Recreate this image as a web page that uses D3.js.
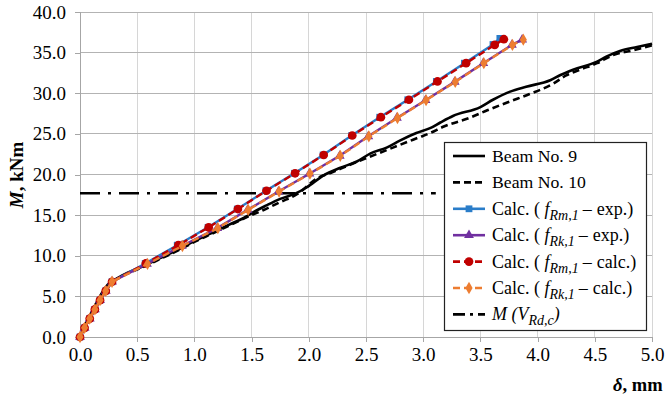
<!DOCTYPE html>
<html>
<head>
<meta charset="utf-8">
<script src="https://cdn.jsdelivr.net/npm/d3@7"></script>
<style>
  html, body { margin: 0; padding: 0; background: #fff; }
  svg { display: block; }
  text { font-family: "Liberation Serif", "Tinos", "Times New Roman", "DejaVu Serif", serif; fill: #000; }
</style>
</head>
<body>
<svg id="chart" width="665" height="398"></svg>
<script>
// Moment M [kNm] versus deflection δ [mm]
const xTicks = [0, 0.5, 1, 1.5, 2, 2.5, 3, 3.5, 4, 4.5, 5];
const yTicks = [0, 5, 10, 15, 20, 25, 30, 35, 40];

// Test results
const beam9Delta = [0, 0.05, 0.1, 0.15, 0.2, 0.26, 0.3, 0.4, 0.55, 0.7, 0.85, 1.0, 1.15, 1.3, 1.45, 1.52, 1.63, 1.75, 1.89, 1.98, 2.13, 2.27, 2.42, 2.54, 2.68, 2.8, 2.94, 3.06, 3.15, 3.26, 3.5, 3.61, 3.76, 3.9, 4.11, 4.2, 4.31, 4.52, 4.6, 4.72, 4.87, 5.0];
const beam9M     = [0, 1.5, 2.9, 4.3, 5.5, 6.6, 7.0, 7.8, 8.7, 9.7, 10.7, 11.8, 12.8, 13.8, 14.8, 15.4, 16.2, 17.0, 17.7, 18.4, 19.9, 20.8, 21.6, 22.6, 23.3, 24.2, 25.1, 25.7, 26.4, 27.2, 28.3, 29.2, 30.2, 30.8, 31.6, 32.25, 32.9, 33.9, 34.5, 35.2, 35.7, 36.1];
const beam10Delta = [0, 0.05, 0.1, 0.15, 0.2, 0.26, 0.3, 0.4, 0.55, 0.7, 0.85, 1.0, 1.15, 1.3, 1.45, 1.6, 1.75, 1.9, 2.07, 2.21, 2.36, 2.5, 2.68, 2.86, 2.97, 3.06, 3.18, 3.41, 3.56, 3.76, 3.93, 4.14, 4.25, 4.37, 4.52, 4.66, 4.84, 5.0];
const beam10M     = [0, 1.6, 3.0, 4.4, 5.6, 6.7, 7.0, 7.7, 8.6, 9.6, 10.6, 11.7, 12.7, 13.7, 14.7, 15.6, 16.6, 17.6, 19.5, 20.3, 21.2, 22.0, 23.0, 24.0, 24.6, 25.1, 25.9, 27.0, 27.9, 29.0, 29.9, 31.2, 32.2, 32.9, 33.7, 34.7, 35.3, 35.9];

// Calculated curves
const rmExpDelta  = [0, 0.04, 0.085, 0.13, 0.175, 0.225, 0.28, 0.57, 0.85, 1.12, 1.375, 1.625, 1.875, 2.125, 2.375, 2.62, 2.865, 3.115, 3.36, 3.61, 3.67];
const rmExpM      = [0, 1.13, 2.27, 3.4, 4.53, 5.67, 6.8, 9.05, 11.3, 13.5, 15.75, 18.0, 20.15, 22.4, 24.8, 27.05, 29.2, 31.45, 33.7, 36.0, 36.75];
const rkExpDelta  = [0, 0.04, 0.085, 0.13, 0.175, 0.225, 0.28, 0.585, 0.89, 1.2, 1.465, 1.735, 2.005, 2.27, 2.52, 2.77, 3.02, 3.275, 3.525, 3.775, 3.865];
const rkExpM      = [0, 1.13, 2.27, 3.4, 4.53, 5.67, 6.8, 9.0, 11.2, 13.4, 15.65, 17.9, 20.1, 22.3, 24.7, 26.95, 29.15, 31.4, 33.7, 35.95, 36.6];
const rmCalcDelta = [0, 0.04, 0.085, 0.13, 0.175, 0.225, 0.28, 0.575, 0.86, 1.125, 1.38, 1.63, 1.88, 2.13, 2.38, 2.63, 2.875, 3.125, 3.375, 3.625, 3.705];
const rmCalcM     = [0, 1.13, 2.27, 3.4, 4.53, 5.67, 6.8, 9.05, 11.3, 13.5, 15.75, 18.0, 20.15, 22.4, 24.8, 27.05, 29.2, 31.45, 33.7, 35.95, 36.65];
const rkCalcDelta = [0, 0.04, 0.085, 0.13, 0.175, 0.225, 0.28, 0.59, 0.895, 1.205, 1.47, 1.74, 2.01, 2.275, 2.525, 2.775, 3.025, 3.28, 3.53, 3.78, 3.875];
const rkCalcM     = [0, 1.13, 2.27, 3.4, 4.53, 5.67, 6.8, 9.0, 11.2, 13.4, 15.65, 17.9, 20.1, 22.3, 24.7, 26.95, 29.15, 31.4, 33.7, 35.95, 36.6];

// Shear resistance level M(V_Rd,c)
const vrdDelta = [0, 3.11];
const vrdM     = [17.7, 17.7];

const svg = d3.select("#chart");
const x = d3.scaleLinear().domain([0, 5]).range([80, 652]);
const y = d3.scaleLinear().domain([0, 40]).range([337, 12]);

// Grid
svg.append("g").selectAll("line").data(xTicks.slice(1)).join("line")
  .attr("x1", d => x(d)).attr("x2", d => x(d)).attr("y1", y(0)).attr("y2", y(40))
  .attr("stroke", "#d6d6d6").attr("stroke-width", 1).attr("shape-rendering", "crispEdges");
svg.append("g").selectAll("line").data(yTicks.slice(1)).join("line")
  .attr("x1", x(0)).attr("x2", x(5)).attr("y1", d => y(d)).attr("y2", d => y(d))
  .attr("stroke", "#b3b3b3").attr("stroke-width", 1).attr("shape-rendering", "crispEdges");

// Axes
const xAxis = d3.axisBottom(x).tickValues(xTicks).tickFormat(d3.format(".1f")).tickSize(5).tickPadding(6);
const yAxis = d3.axisLeft(y).tickValues(yTicks).tickFormat(d3.format(".1f")).tickSize(5).tickPadding(9);
const gx = svg.append("g").attr("transform", `translate(0,${y(0)})`).call(xAxis);
const gy = svg.append("g").attr("transform", `translate(${x(0)},0)`).call(yAxis);
[gx, gy].forEach(g => {
  g.attr("font-family", null);
  g.select(".domain").attr("stroke", "#a6a6a6").attr("shape-rendering", "crispEdges");
  g.selectAll(".tick line").attr("stroke", "#a6a6a6").attr("shape-rendering", "crispEdges");
  g.selectAll(".tick text").attr("font-size", 19).attr("fill", "#000");
});

// Axis titles
svg.append("text").attr("transform", "translate(23,175) rotate(-90)")
  .attr("text-anchor", "middle").attr("font-size", 19).attr("font-weight", "bold")
  .call(t => {
    t.append("tspan").attr("font-style", "italic").text("M");
    t.append("tspan").text(", kNm");
  });
svg.append("text").attr("x", 613).attr("y", 391)
  .attr("font-size", 18.5).attr("font-weight", "bold")
  .call(t => {
    t.append("tspan").attr("font-style", "italic").text("δ");
    t.append("tspan").text(", mm");
  });

const line = d3.line().x(d => x(d[0])).y(d => y(d[1]));
const pts = (dx, my) => dx.map((d, i) => [d, my[i]]);

// Experimental curves
svg.append("path").datum(pts(beam9Delta, beam9M)).attr("d", line.curve(d3.curveMonotoneX))
  .attr("fill", "none").attr("stroke", "#000").attr("stroke-width", 2.6);
svg.append("path").datum(pts(beam10Delta, beam10M)).attr("d", line.curve(d3.curveMonotoneX))
  .attr("fill", "none").attr("stroke", "#000").attr("stroke-width", 2.6).attr("stroke-dasharray", "7,4");

line.curve(d3.curveLinear);

// Shear resistance line
svg.append("path").datum(pts(vrdDelta, vrdM)).attr("d", line)
  .attr("fill", "none").attr("stroke", "#000").attr("stroke-width", 2.4).attr("stroke-dasharray", "20,8,3,8");

const calcSeries = [
  { dx: rmExpDelta, m: rmExpM, color: "#2A7DC9", dash: null, marker: "square" },
  { dx: rkExpDelta, m: rkExpM, color: "#7030A0", dash: null, marker: "triangle" },
  { dx: rmCalcDelta, m: rmCalcM, color: "#C00000", dash: "7,4", marker: "circle" },
  { dx: rkCalcDelta, m: rkCalcM, color: "#ED7D31", dash: "7,4", marker: "diamond" }
];
const symbolFor = {
  square: d3.symbol().type(d3.symbolSquare).size(46),
  triangle: d3.symbol().type(d3.symbolTriangle).size(42),
  circle: d3.symbol().type(d3.symbolCircle).size(60),
  diamond: d3.symbol().type(d3.symbolDiamond).size(44)
};

calcSeries.forEach(s => {
  const data = pts(s.dx, s.m);
  svg.append("path").datum(data).attr("d", line)
    .attr("fill", "none").attr("stroke", s.color).attr("stroke-width", 2.4)
    .attr("stroke-dasharray", s.dash);
  svg.append("g").selectAll("path").data(data).join("path")
    .attr("transform", d => `translate(${x(d[0])},${y(d[1])})`)
    .attr("d", symbolFor[s.marker]()).attr("fill", s.color);
});

// Legend
const lg = svg.append("g");
lg.append("rect").attr("x", 444.5).attr("y", 142.5).attr("width", 202).attr("height", 188)
  .attr("fill", "#fff").attr("stroke", "#222").attr("stroke-width", 1.2);

const legendRows = [
  { kind: "beam9" }, { kind: "beam10" },
  { kind: "calc", s: calcSeries[0], sub: "Rm,1", tail: "exp.)" },
  { kind: "calc", s: calcSeries[1], sub: "Rk,1", tail: "exp.)" },
  { kind: "calc", s: calcSeries[2], sub: "Rm,1", tail: "calc.)" },
  { kind: "calc", s: calcSeries[3], sub: "Rk,1", tail: "calc.)" },
  { kind: "vrd" }
];
legendRows.forEach((r, i) => {
  const cy = 156 + i * 26.4;
  const l = lg.append("line").attr("x1", 453).attr("x2", 485).attr("y1", cy).attr("y2", cy)
    .attr("stroke-width", 2.6);
  const t = lg.append("text").attr("x", 492).attr("y", cy + 6).attr("font-size", 18);
  if (r.kind === "beam9") { l.attr("stroke", "#000"); t.attr("font-size", 17.7).text("Beam No. 9"); }
  else if (r.kind === "beam10") { l.attr("stroke", "#000").attr("stroke-dasharray", "7,4"); t.attr("font-size", 17.7).text("Beam No. 10"); }
  else if (r.kind === "vrd") {
    l.attr("stroke", "#000").attr("stroke-dasharray", "12,5,3,5");
    t.attr("font-style", "italic");
    t.append("tspan").text("M (V");
    t.append("tspan").attr("font-size", 14).attr("dy", 5).text("Rd,c");
    t.append("tspan").attr("dy", -5).text(")");
  } else {
    l.attr("stroke", r.s.color).attr("stroke-dasharray", r.s.dash);
    lg.append("path").attr("transform", `translate(469,${cy})`)
      .attr("d", symbolFor[r.s.marker]()).attr("fill", r.s.color);
    t.append("tspan").text("Calc. ( ");
    t.append("tspan").attr("font-style", "italic").text("f");
    t.append("tspan").attr("font-style", "italic").attr("font-size", 14).attr("dy", 5).text(r.sub);
    t.append("tspan").attr("dy", -5).attr("dx", 4).text("–");
    t.append("tspan").attr("dx", 5).text(r.tail);
  }
});
</script>
</body>
</html>
